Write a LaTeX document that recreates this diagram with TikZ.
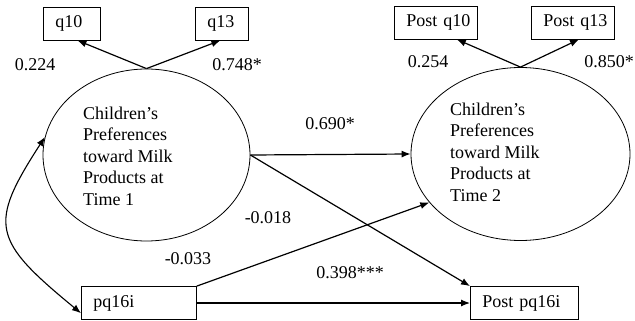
\documentclass[tikz,border=0pt]{standalone}
\usepackage{fontspec}
\setmainfont{Liberation Serif}
\usetikzlibrary{shapes.geometric,arrows.meta}
\begin{document}
\begin{tikzpicture}[x=1pt,y=-1pt,
  every node/.style={font=\fontsize{18}{21.5}\selectfont},
  obs/.style={draw, line width=0.8pt, minimum height=33pt, inner xsep=12pt, inner ysep=0pt, text width=#1, align=left, anchor=west},
  lat/.style={draw, ellipse, line width=0.8pt, inner sep=0pt},
  conn/.style={line width=1.2pt, -{Latex[length=9pt,width=7pt]}},
  biconn/.style={line width=1.1pt, {Latex[length=9pt,width=7pt]}-{Latex[length=9pt,width=7pt]}},
  lbl/.style={inner sep=0pt},
  ltext/.style={anchor=west, align=left, inner sep=0pt}
]
\useasboundingbox (0,0) rectangle (635,321);

% observed boxes
\node[obs=33pt] (q10) at (43,23.5) {q10};
\node[obs=29pt] (q13) at (195,23.5) {q13};
\node[obs=59pt] (pq10) at (394,22.5) {Post~q10};
\node[obs=59pt] (pq13) at (531,22.5) {Post~q13};
\node[obs=91pt] (p16) at (81,303) {pq16i};
\node[obs=84pt] (pp16) at (470,303) {Post~pq16i};

% latent ellipses
\node[lat, minimum width=207pt, minimum height=172pt] (e1) at (146.5,155) {};
\node[lat, minimum width=219pt, minimum height=173pt] (e2) at (520.5,154) {};
\node[ltext] (t1) at (83,156) {Children’s\\Preferences\\toward Milk\\Products at\\Time 1};
\node[ltext] (t2) at (450,152) {Children’s\\Preferences\\toward Milk\\Products at\\Time 2};

% connectors
\draw[conn] (e1.north) -- (q10.-72);
\draw[conn] (e1.north) -- (q13.-95);
\draw[conn] (e2.north) -- (pq10.-39);
\draw[conn] (e2.north) -- (pq13.-70);
\draw[conn] (e1.east) -- (e2.west);
\draw[conn] (e1.east) -- (pp16.north west);
\draw[conn] (p16.north east) -- (e2.208);
\draw[conn] (p16.east) -- (pp16.west);
\draw[biconn] (e1.170) .. controls (-12,225) and (-8,240) .. (p16.190);

% labels
\node[lbl] (l1) at (35,65) {0.224};
\node[lbl] (l2) at (237,65) {0.748*};
\node[lbl] (l3) at (428,62) {0.254};
\node[lbl] (l4) at (609,62) {0.850*};
\node[lbl] (l5) at (330,124) {0.690*};
\node[lbl] (l6) at (268,218) {-0.018};
\node[lbl] (l7) at (188,259) {-0.033};
\node[lbl] (l8) at (350,273) {0.398***};
\end{tikzpicture}
\end{document}
